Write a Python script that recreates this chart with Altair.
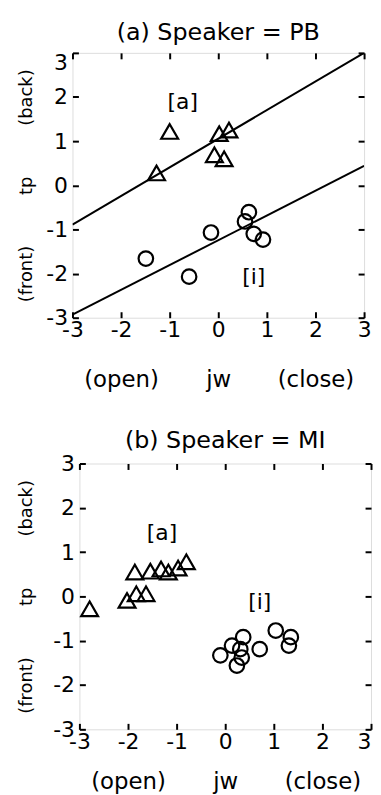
import altair as alt
import pandas as pd

FONT = "DejaVu Sans"
ticks = [-3, -2, -1, 0, 1, 2, 3]
side_vals = [-2, 0, 2]

# Panel (a) Speaker = PB
a_tri_x = [-1.00, -1.27, 0.02, 0.22, -0.08, 0.12]
a_tri_y = [1.22, 0.28, 1.17, 1.25, 0.69, 0.60]
a_cir_x = [-1.49, -0.60, -0.15, 0.63, 0.55, 0.73, 0.92]
a_cir_y = [-1.66, -2.07, -1.07, -0.61, -0.82, -1.10, -1.23]
a_line_x = [-3, 3]
a_line_a_y = [-0.89, 3.0]
a_line_i_y = [-2.93, 0.44]
a_lab_txt = ["[a]", "[i]"]
a_lab_x = [-0.73, 0.73]
a_lab_y = [1.89, -2.07]

# Panel (b) Speaker = MI
b_tri_x = [-2.79, -2.02, -1.83, -1.63, -1.86, -1.54, -1.32, -1.17, -0.97, -0.80]
b_tri_y = [-0.28, -0.09, 0.06, 0.06, 0.55, 0.57, 0.62, 0.55, 0.64, 0.78]
b_cir_x = [-0.10, 0.14, 0.37, 0.31, 0.24, 0.34, 0.71, 1.04, 1.35, 1.31]
b_cir_y = [-1.33, -1.11, -0.92, -1.19, -1.56, -1.38, -1.19, -0.77, -0.92, -1.11]
b_lab_txt = ["[a]", "[i]"]
b_lab_x = [-1.30, 0.71]
b_lab_y = [1.42, -0.13]

num_expr = "datum.value + ''"
x_side_expr = "datum.value == -2 ? '(open)' : datum.value == 0 ? 'jw' : '(close)'"
y_side_expr = "datum.value == -2 ? '(front)' : datum.value == 0 ? 'tp' : '(back)'"

SC = alt.Scale(domain=[-3, 3], nice=False, zero=False)


def panel(title, tri_x, tri_y, cir_x, cir_y, lab_txt, lab_x, lab_y, lines,
          x_side_pad, y_side_pad, flush_top, flush_right, title_off, w, h):
    ybase = ({"condition": {"test": "datum.value == 3", "value": "top"}, "value": "middle"}
             if flush_top else "middle")
    xalign = ({"condition": {"test": "datum.value == 3", "value": "right"}, "value": "center"}
              if flush_right else "center")
    X = alt.X("x:Q", scale=SC, title=None,
              axis=alt.Axis(values=ticks, orient="bottom", grid=False, domain=False,
                            tickSize=alt.ExprRef("-6"), tickWidth=2, tickColor="black",
                            labelPadding=8, labelFontSize=22, labelFont=FONT,
                            labelColor="black", labelExpr=num_expr, labelFlush=False,
                            labelOverlap=False, labelAlign=xalign))
    Y = alt.Y("y:Q", scale=SC, title=None,
              axis=alt.Axis(values=ticks, orient="left", grid=False, domain=False,
                            tickSize=alt.ExprRef("-6"), tickWidth=2, tickColor="black",
                            labelPadding=11, labelFontSize=22, labelFont=FONT,
                            labelColor="black", labelExpr=num_expr, labelFlush=False,
                            labelOverlap=False, labelBaseline=ybase))
    tri = alt.Chart(pd.DataFrame({"x": tri_x, "y": tri_y})).mark_point(
        shape="triangle-up", size=290, filled=False, color="black", strokeWidth=2.2, opacity=1
    ).encode(x=X, y=Y)
    cir = alt.Chart(pd.DataFrame({"x": cir_x, "y": cir_y})).mark_point(
        shape="circle", size=215, filled=False, color="black", strokeWidth=2.2, opacity=1
    ).encode(x=X, y=Y)
    txt = alt.Chart(pd.DataFrame({"x": lab_x, "y": lab_y, "t": lab_txt})).mark_text(
        fontSize=22, font=FONT, color="black"
    ).encode(x=X, y=Y, text="t:N")
    parts = []
    if lines is not None:
        ln = alt.Chart(lines).mark_line(color="black", strokeWidth=2, clip=True).encode(
            x=X, y=Y, detail="g:N")
        parts.append(ln)
    parts += [tri, cir, txt]
    main = alt.layer(*parts)

    dummy = pd.DataFrame({"x": [0], "y": [0]})
    tr = alt.Chart(dummy).mark_point(opacity=0).encode(
        x=alt.X("x:Q", scale=SC, title=None,
                axis=alt.Axis(values=ticks, orient="top", grid=False, domain=False, labels=False,
                              tickSize=alt.ExprRef("-6"), tickWidth=2, tickColor="black",
                              minExtent=0)),
        y=alt.Y("y:Q", scale=SC, title=None,
                axis=alt.Axis(values=ticks, orient="right", grid=False, domain=False, labels=False,
                              tickSize=alt.ExprRef("-6"), tickWidth=2, tickColor="black",
                              minExtent=0)),
    )
    sl = alt.Chart(dummy).mark_point(opacity=0).encode(
        x=alt.X("x:Q", scale=SC, title=None,
                axis=alt.Axis(values=side_vals, orient="bottom", grid=False, domain=False,
                              ticks=False, tickSize=0, labelPadding=x_side_pad,
                              labelExpr=x_side_expr, labelFlush=False,
                              labelFontSize=23, labelFont=FONT, labelColor="black")),
        y=alt.Y("y:Q", scale=SC, title=None,
                axis=alt.Axis(values=side_vals, orient="left", grid=False, domain=False,
                              ticks=False, tickSize=0, labelPadding=y_side_pad,
                              labelExpr=y_side_expr,
                              labelAngle=270, labelAlign="center", labelBaseline="bottom",
                              labelFlush=False,
                              labelFontSize=18, labelFont=FONT, labelColor="black")),
    )
    return alt.layer(main, tr, sl).resolve_axis(x="independent", y="independent").properties(
        width=w, height=h,
        title=alt.TitleParams(title, fontSize=24, font=FONT, fontWeight="normal",
                              color="black", offset=title_off, anchor="middle"),
    )


def spacer(w):
    return alt.Chart(pd.DataFrame({"v": [0]})).mark_point(opacity=0).encode(
        x=alt.value(0), y=alt.value(0)
    ).properties(width=w, height=1, view=alt.ViewBackground(strokeWidth=0, strokeOpacity=0))


lines_a = pd.DataFrame({
    "x": a_line_x + a_line_x,
    "y": a_line_a_y + a_line_i_y,
    "g": ["a", "a", "i", "i"],
})

pa = panel("(a) Speaker = PB", a_tri_x, a_tri_y, a_cir_x, a_cir_y,
           a_lab_txt, a_lab_x, a_lab_y, lines_a, 51, 37, True, False, 7, 294, 267)
pb = panel("(b) Speaker = MI", b_tri_x, b_tri_y, b_cir_x, b_cir_y,
           b_lab_txt, b_lab_x, b_lab_y, None, 42, 44, False, True, 0, 294, 268)

row_a = alt.hconcat(spacer(1), pa, spacing=0)
row_b = alt.hconcat(spacer(1), pb, spacing=0)

chart = alt.vconcat(row_a, row_b, spacing=36).properties(
    padding={"left": 3, "top": 9, "right": 0, "bottom": 0}
).configure_view(stroke="black", strokeWidth=2).configure(background="white")

chart.save("out.html", embed_options={"renderer": "svg", "actions": False})
